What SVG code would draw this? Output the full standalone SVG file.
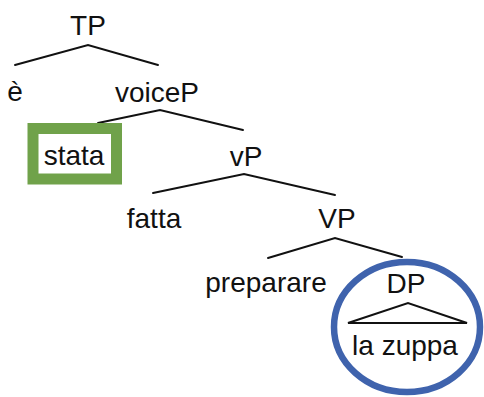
<svg xmlns="http://www.w3.org/2000/svg" width="484" height="397" viewBox="0 0 484 397">
<style>
text{font-family:"Liberation Sans",Arial,sans-serif;font-size:28px;fill:#111;text-anchor:middle}
.e{fill:none;stroke:#111;stroke-width:2;stroke-linecap:round}
</style>
<rect width="484" height="397" fill="#fff"/>
<g id="connectors">
<polyline class="e" points="15,65 88,45 158,65"/>
<polyline class="e" points="98,123 160,110 243,130"/>
<polyline class="e" points="153,193 244,174 335,195"/>
<polyline class="e" points="268,258 335,238 402,257"/>
<polygon class="e" points="348,323 408,303 467,323"/>
</g>
<g id="TP"><text x="88" y="35">TP</text></g>
<g id="e"><text x="15" y="101">è</text></g>
<g id="voiceP"><text x="157" y="102">voiceP</text></g>
<g id="stata"><rect x="33" y="128.5" width="83.5" height="50.5" fill="none" stroke="#70a24a" stroke-width="11"/><text x="74" y="165">stata</text></g>
<g id="vP"><text x="246" y="166">vP</text></g>
<g id="fatta"><text x="154" y="228">fatta</text></g>
<g id="VP"><text x="337" y="228">VP</text></g>
<g id="preparare"><text x="266" y="292">preparare</text></g>
<g id="DP"><text x="406" y="293">DP</text><text x="405" y="355">la zuppa</text><ellipse cx="407" cy="327" rx="73" ry="65" fill="none" stroke="#3f63ad" stroke-width="6.5"/></g>
</svg>
